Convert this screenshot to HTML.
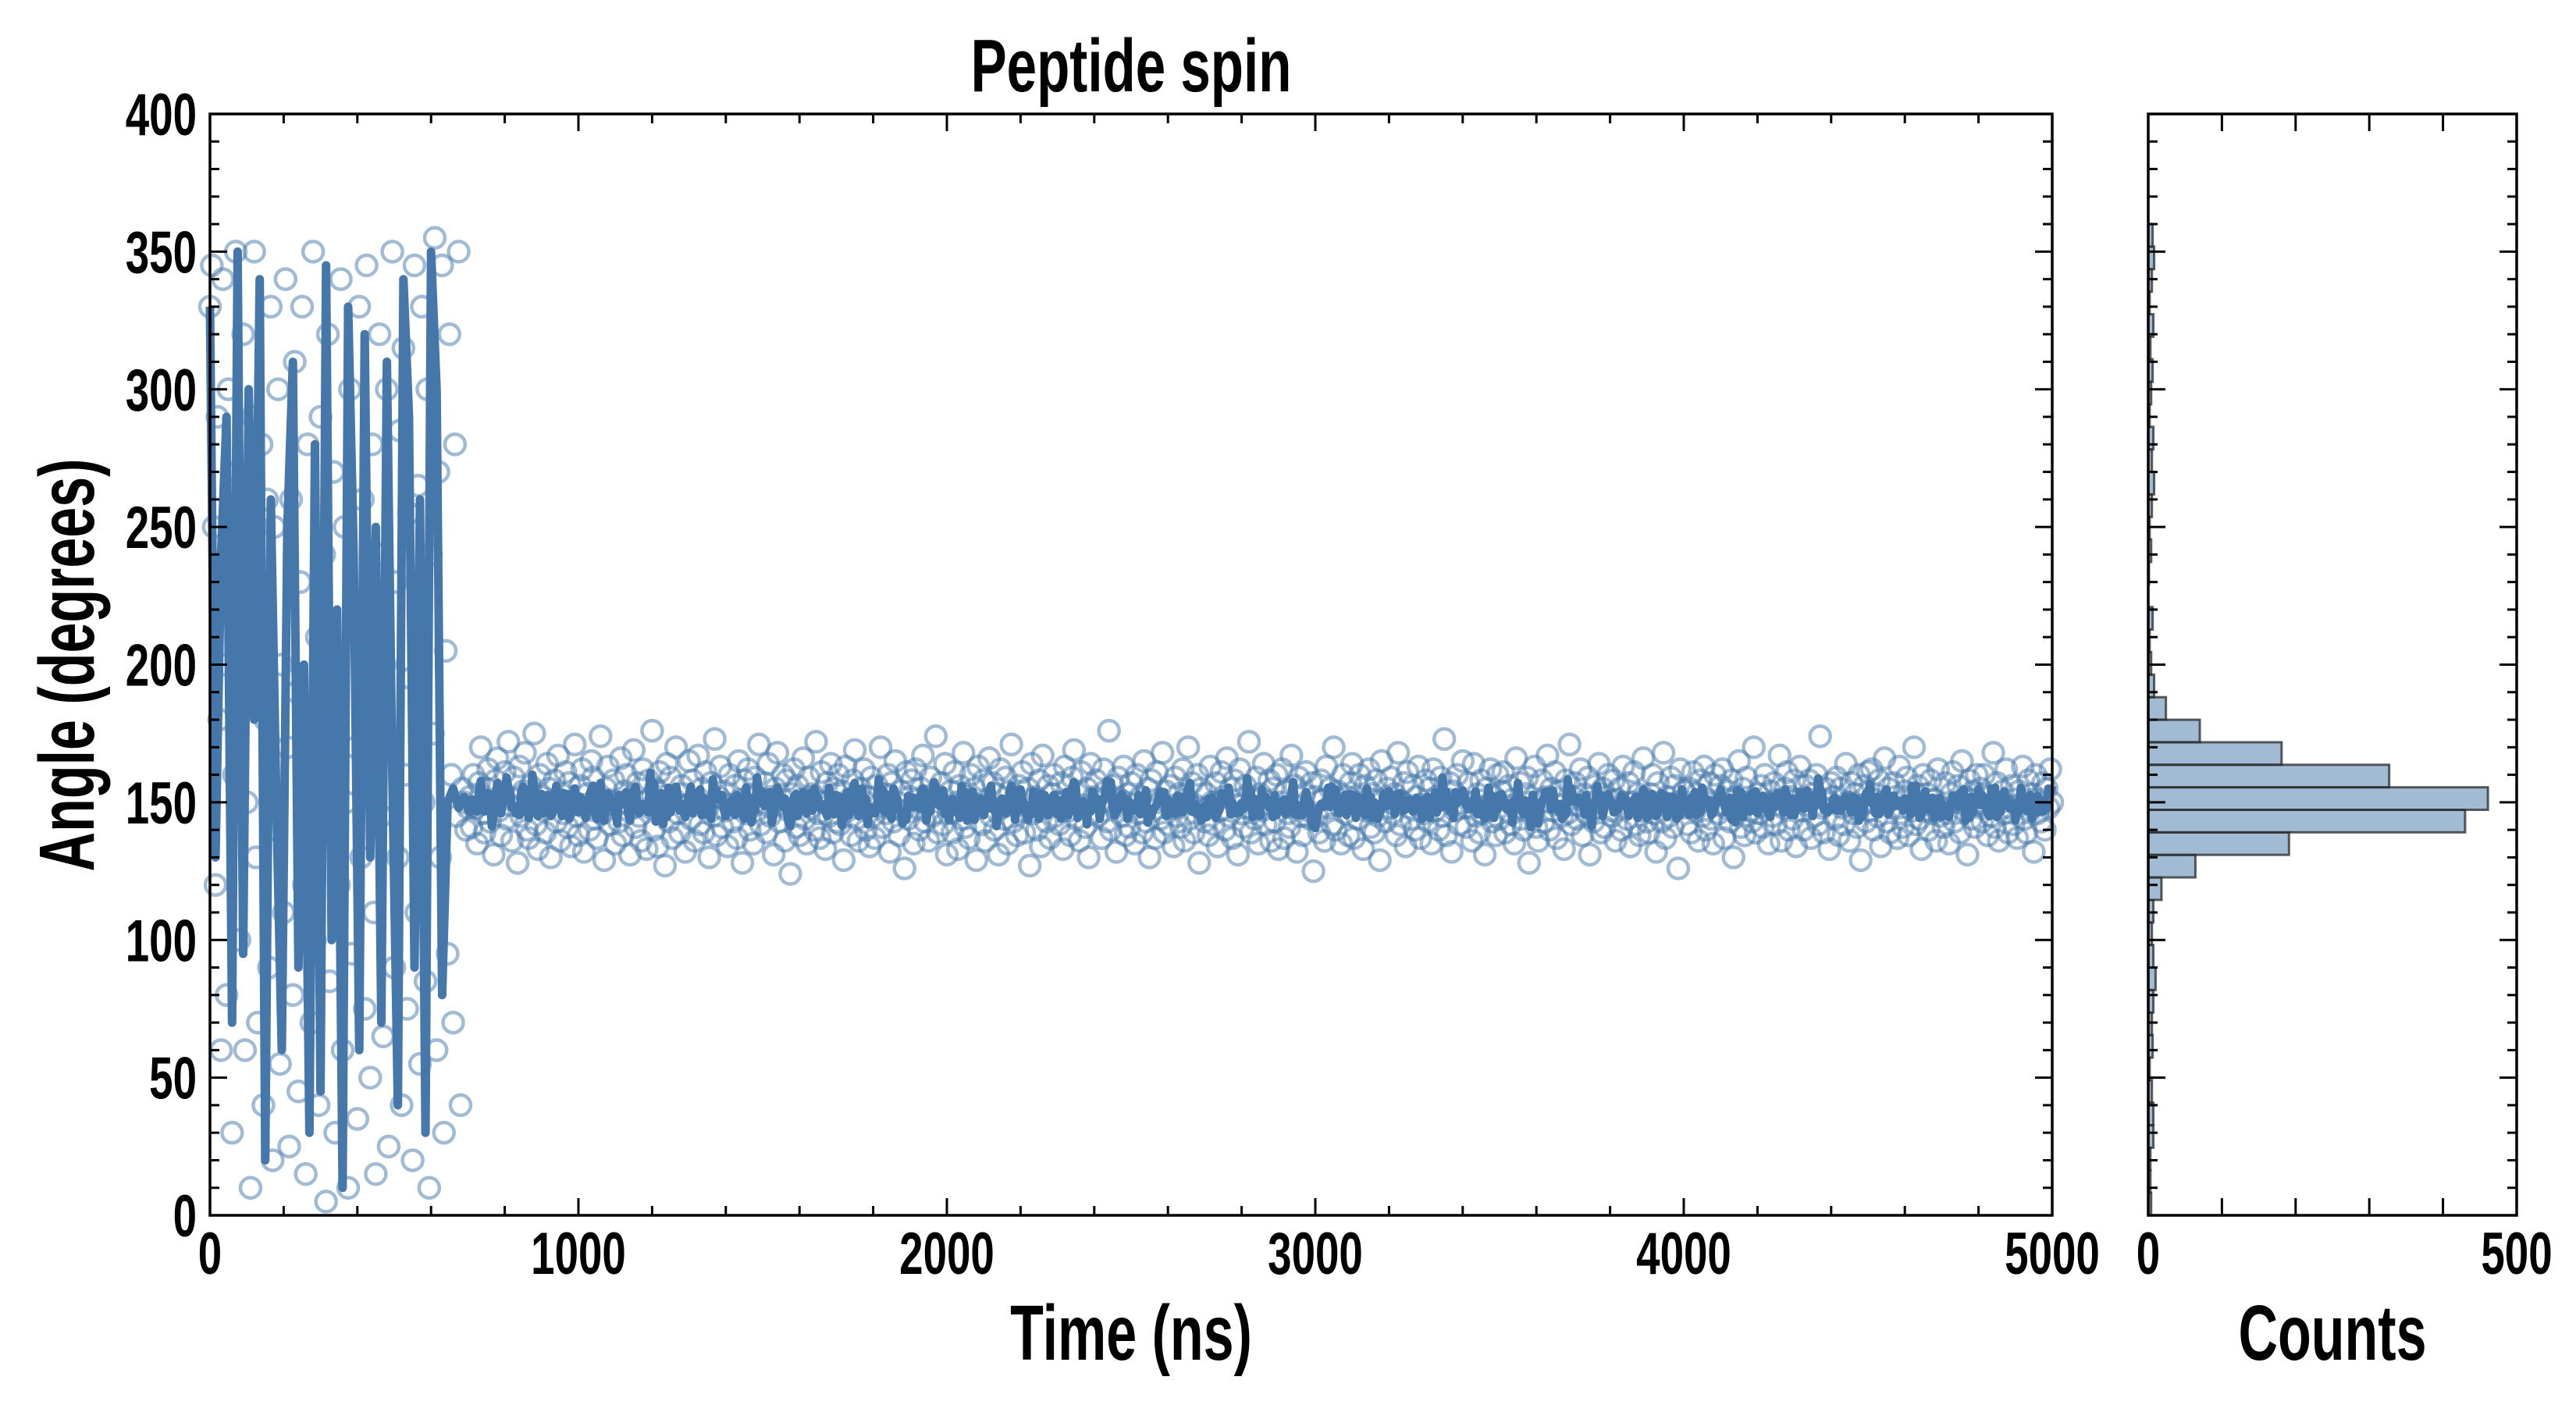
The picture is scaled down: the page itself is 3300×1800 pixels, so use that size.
<!DOCTYPE html>
<html><head><meta charset="utf-8"><style>
html,body{margin:0;padding:0;background:#fff;}
svg{display:block;}
text{font-family:"Liberation Sans",sans-serif;font-weight:bold;fill:#000;}
</style></head><body>
<svg id="chart" width="3300" height="1800" viewBox="0 0 3300 1800" xmlns="http://www.w3.org/2000/svg">
<rect width="3300" height="1800" fill="#fff"/>
<g id="main"></g>
<g id="hist"></g>
<g id="labels"></g>
</svg>
<script>
const timeStep = 5;
const earlyLineStep = 15;
const earlyAngles = [330,345,250,120,290,180,60,340,200,80,300,230,30,160,350,270,100,190,320,60,
150,240,10,290,350,130,70,210,280,40,180,260,90,330,20,250,140,300,55,200,
110,340,170,25,260,80,310,190,45,230,330,120,15,280,160,70,350,100,210,40,
290,140,240,5,320,85,180,270,30,200,120,340,60,250,150,10,300,95,220,170,
35,330,130,260,75,345,190,50,280,110,15,240,320,145,65,200,300,25,170,350,
90,230,130,285,40,315,160,75,255,195,20,345,110,265,55,330,150,85,300,10,
240,175,355,60,270,130,345,30,205,95,320,160,70,280,145,350,40,155,150,140,148];
const earlyLine = [330,130,240,290,70,350,95,300,180,340,20,260,150,60,250,310,90,200,30,280,45,345,100,220,10,330,240,60,320,130,250,70,310,160,40,340,290,90,260,30,350,300,80,150,155,148,152];
const stableAngles = [152,141,160,148,135,157,170,146,139,155,162,143,150,131,158,166,147,138,153,161,
144,172,149,136,159,151,128,163,145,154,168,140,137,156,149,175,142,133,160,152,
147,139,164,155,130,150,158,143,167,136,153,146,161,141,157,134,149,171,145,138,
156,162,132,148,153,140,165,159,144,137,151,174,146,129,155,163,142,150,158,135,
149,143,166,138,154,160,147,131,152,169,141,157,145,136,162,150,133,158,148,176,
140,155,134,161,147,152,127,164,143,159,137,151,170,146,139,156,153,132,149,165,
144,158,136,150,167,142,155,139,161,148,130,157,145,173,138,152,163,141,154,147,
134,160,149,143,156,137,165,151,128,158,146,162,140,153,135,159,147,171,142,150,
157,139,164,145,152,131,155,168,143,149,160,136,158,147,124,153,162,141,156,138,
151,166,144,135,159,148,153,140,172,146,137,161,150,133,157,145,164,139,155,143,
160,142,154,129,163,147,151,138,158,169,144,136,155,148,162,140,152,134,159,145,
137,156,149,170,141,153,146,160,132,157,143,165,150,138,154,147,126,161,144,152,
158,135,162,148,140,155,167,143,151,136,159,145,153,174,139,150,157,142,164,131,
146,154,139,161,150,133,156,144,168,141,152,137,160,147,155,129,163,149,142,158,
136,151,166,145,157,140,153,131,162,148,144,159,135,154,171,143,150,138,156,147,
161,139,149,155,127,164,146,152,140,158,134,167,148,143,156,137,153,160,145,150,
142,157,133,163,151,147,138,159,169,144,153,136,161,149,141,155,130,164,146,152,
158,145,150,137,162,154,143,176,140,156,148,132,159,151,145,163,138,153,141,157,
149,135,160,146,152,139,165,143,155,130,158,147,137,161,150,144,168,139,154,142,
156,148,134,159,145,153,141,162,136,151,170,144,157,139,149,160,128,155,147,143,
153,138,163,150,142,157,134,147,161,152,140,166,145,155,137,158,149,131,162,146,
141,156,148,172,139,151,144,159,135,153,147,164,142,150,158,136,155,143,160,133,
150,162,137,154,146,141,167,149,156,132,159,145,138,153,161,147,144,157,125,152,
145,139,158,151,136,163,148,155,142,170,140,154,149,135,160,146,152,138,157,164,
137,152,144,160,150,133,156,147,162,141,153,139,158,145,129,165,151,143,155,148,
159,146,153,138,168,142,150,157,134,161,148,144,156,140,152,163,137,149,146,158,
143,155,135,162,147,152,140,159,145,173,138,151,157,132,154,147,160,142,150,165,
148,141,157,150,136,164,145,153,139,158,146,131,155,149,162,143,152,138,160,144,
154,161,139,147,156,142,151,135,166,148,157,144,140,153,159,128,150,145,163,141,
136,150,158,143,152,167,140,155,147,161,137,149,154,145,133,158,146,171,142,152,
157,144,149,162,138,153,146,159,131,150,143,156,148,164,139,155,141,152,160,147,
145,158,136,151,155,140,163,148,144,157,134,150,161,142,153,138,147,166,151,143,
139,153,160,146,132,157,149,143,168,137,152,145,159,141,156,150,126,162,148,154,
150,142,155,139,161,147,153,136,158,145,163,140,151,157,144,135,160,149,146,156,
162,137,148,154,143,158,130,152,146,165,141,155,138,159,150,147,143,170,139,153,
146,156,141,160,149,135,154,145,157,142,151,167,136,148,155,161,140,152,144,158,
134,151,163,147,140,156,149,158,137,153,145,160,142,174,148,139,155,151,133,157,
152,144,159,138,155,148,142,164,150,136,157,146,153,141,160,129,149,156,143,161,
147,162,140,153,145,158,134,150,166,143,155,139,148,157,152,137,163,146,141,154,
159,138,151,147,170,142,156,144,133,160,149,153,140,158,146,151,136,162,145,148,
141,157,146,135,153,161,143,150,156,139,165,147,152,131,158,144,154,141,160,149,
155,143,160,148,138,152,145,168,141,157,136,150,154,146,162,139,148,156,142,151,
137,154,149,163,144,139,158,147,153,132,160,146,151,143,157,140,155,148,162,150];
const histCounts = [4,3,3,7,7,5,2,6,5,7,10,7,5,7,18,64,191,430,461,327,181,70,24,8,4,2,6,0,1,4,2,5,8,5,7,2,4,6,3,7,2,5,8,6];
const histBinWidth = 360/44;
const xTicksMajor = [0,1000,2000,3000,4000,5000];
const yTicksMajor = [0,50,100,150,200,250,300,350,400];
const countTicksLabeled = [0,500];

const NS="http://www.w3.org/2000/svg";
const L=269,R=2629,T=146,B=1557,HL=2752,HR=3224;
const xS=t=>L+t/5000*(R-L);
const yS=v=>B-v/400*(B-T);
const cS=c=>HL+c/500*(HR-HL);
function mk(tag,parent,attrs){const e=document.createElementNS(NS,tag);for(const k in attrs)e.setAttribute(k,attrs[k]);parent.appendChild(e);return e;}
const main=document.getElementById('main'),hist=document.getElementById('hist'),labels=document.getElementById('labels');

const angles=earlyAngles.concat(stableAngles);
const nEarly=earlyAngles.length;
const sg=mk('g',main,{});


angles.forEach((v,i)=>{
  const c=mk('circle',sg,{cx:xS(i*timeStep),cy:yS(v),r:13,fill:'none',stroke:'rgba(68,119,170,0.5)','stroke-width':4.5});
  
  
});
const pts=[];
earlyLine.forEach((v,i)=>pts.push(xS(i*earlyLineStep).toFixed(1)+','+yS(v).toFixed(1)));
stableAngles.forEach((v,i)=>{
  let s=0,n=0;
  for(let j=i-1;j<=i+1;j++){if(j>=0&&j<stableAngles.length){s+=stableAngles[j];n++;}}
  pts.push(xS((nEarly+i)*timeStep).toFixed(1)+','+yS(s/n).toFixed(1));
});
const pl=mk('polyline',main,{points:pts.join(' '),fill:'none',stroke:'#4577aa','stroke-width':11,'stroke-linejoin':'round','stroke-linecap':'butt'});



histCounts.forEach((c,k)=>{
  if(c<=0)return;
  const y1=yS((k+1)*histBinWidth),y0=yS(k*histBinWidth);
  const b=mk('rect',hist,{x:HL,y:y1,width:cS(c)-HL,height:y0-y1,fill:'rgba(68,119,170,0.5)',stroke:'rgba(40,40,40,0.75)','stroke-width':3});
  
  
});

function frame(parent,x0,x1,name){const f=mk('rect',parent,{x:x0,y:T,width:x1-x0,height:B-T,fill:'none',stroke:'#000','stroke-width':3.5});}
frame(main,L,R,'main-frame');
frame(hist,HL,HR,'hist-frame');
const tg=mk('g',labels,{stroke:'#000','stroke-width':3});


for(let t=0;t<=5000;t+=200){const len=t%1000===0?22:12;const x=xS(t);mk('line',tg,{x1:x,y1:B,x2:x,y2:B-len});mk('line',tg,{x1:x,y1:T,x2:x,y2:T+len});}
for(let v=0;v<=400;v+=10){const len=v%50===0?22:12;const y=yS(v);
 mk('line',tg,{x1:L,y1:y,x2:L+len,y2:y});mk('line',tg,{x1:R,y1:y,x2:R-len,y2:y});
 mk('line',tg,{x1:HL,y1:y,x2:HL+len,y2:y});mk('line',tg,{x1:HR,y1:y,x2:HR-len,y2:y});}
for(let c=0;c<=500;c+=100){const x=cS(c);mk('line',tg,{x1:x,y1:B,x2:x,y2:B-22});mk('line',tg,{x1:x,y1:T,x2:x,y2:T+22});}

function txt(str,x,y,size,anchor,sx,name,rot){
  const e=mk('text',labels,{transform:`translate(${x},${y})`+(rot?` rotate(${rot})`:'')+` scale(${sx},1)`,'font-size':size,'text-anchor':anchor});
  e.textContent=str;
  
  
  return e;
}
xTicksMajor.forEach(t=>txt(String(t),xS(t),1632,76,'middle',0.72,'x-tick-label'));
yTicksMajor.forEach(v=>txt(String(v),252,yS(v)+27,76,'end',0.72,'y-tick-label'));
countTicksLabeled.forEach(c=>txt(String(c),cS(c),1632,76,'middle',0.72,'count-tick-label'));
txt('Peptide spin',1449,117,96,'middle',0.72,'chart-title');
txt('Time (ns)',1449,1742,100,'middle',0.7,'x-axis-title');
txt('Counts',2988,1742,100,'middle',0.7,'hist-x-axis-title');
txt('Angle (degrees)',120,852,100,'middle',0.7,'y-axis-title',-90);
</script>
</body></html>
